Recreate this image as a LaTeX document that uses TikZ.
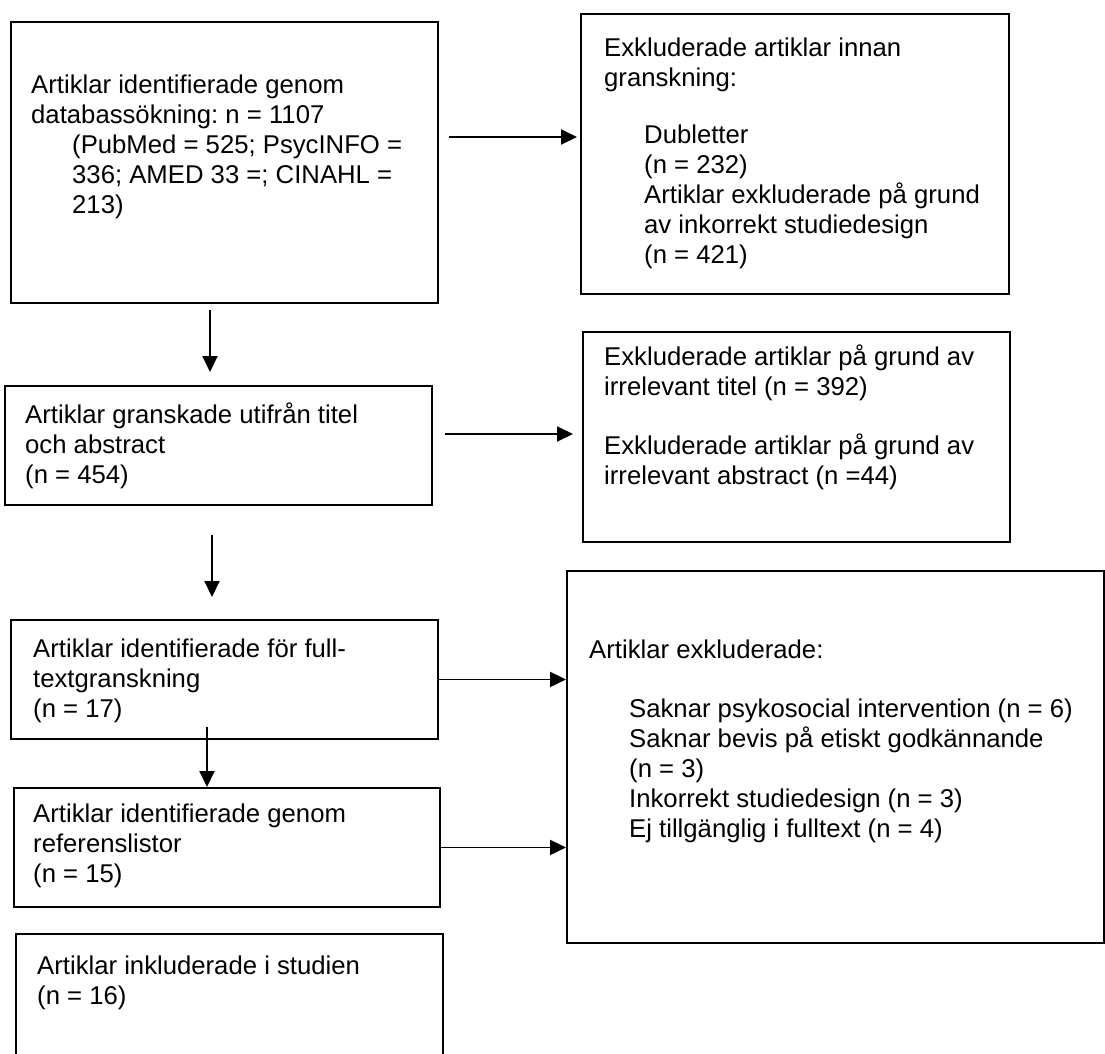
\documentclass[tikz,border=0pt]{standalone}
\usepackage{fontspec}
\setmainfont{Liberation Sans}
\usetikzlibrary{arrows.meta,calc}
\frenchspacing

\tikzset{
  box/.style={draw, line width=1.9pt, inner sep=0pt, anchor=north west},
  txt/.style={anchor=north west, inner sep=0pt, align=left,
    font=\fontsize{25.7}{30}\selectfont, execute at begin node=\strut},
  arr/.style={line width=1.9pt, -{Triangle[length=16pt,width=15pt]}},
}

\begin{document}
\begin{tikzpicture}[x=1pt,y=-1pt]
\clip (0,0) rectangle (1105,1053);

% Left column boxes
\node[box, minimum width=427pt, minimum height=281pt] (ident) at (10,21) {};
\node[box, minimum width=427pt, minimum height=119pt] (screen) at (4,385) {};
\node[box, minimum width=427pt, minimum height=119pt] (full) at (10,619) {};
\node[box, minimum width=426pt, minimum height=119pt] (refs) at (13,787) {};
\node[box, minimum width=427pt, minimum height=140pt] (incl) at (15,933) {};

% Right column boxes
\node[box, minimum width=428pt, minimum height=280pt] (excl1) at (580,13) {};
\node[box, minimum width=427pt, minimum height=210pt] (excl2) at (582,331) {};
\node[box, minimum width=537pt, minimum height=372pt] (excl3) at (566,570) {};

% Texts
\node[txt] (identtxt) at ([shift={(21,54)}]ident.north west)
  {Artiklar identifierade genom\\databassökning: n = 1107\\
   \hspace*{41pt}(PubMed = 525; PsycINFO =\\
   \hspace*{41pt}336; AMED 33 =; CINAHL =\\
   \hspace*{41pt}213)};
\node[txt] (screentxt) at ([shift={(21,18)}]screen.north west)
  {Artiklar granskade utifrån titel\\och abstract\\(n = 454)};
\node[txt] (fulltxt) at ([shift={(23,20)}]full.north west)
  {Artiklar identifierade för full-\\textgranskning\\(n = 17)};
\node[txt] (refstxt) at ([shift={(20,17)}]refs.north west)
  {Artiklar identifierade genom\\referenslistor\\(n = 15)};
\node[txt] (incltxt) at ([shift={(22,23)}]incl.north west)
  {Artiklar inkluderade i studien\\(n = 16)};

\node[txt] (excl1txt) at ([shift={(24,25)}]excl1.north west)
  {Exkluderade artiklar innan\\granskning:\\[27pt]
   \hspace*{40pt}Dubletter\\
   \hspace*{40pt}(n = 232)\\
   \hspace*{40pt}Artiklar exkluderade på grund\\
   \hspace*{40pt}av inkorrekt studiedesign\\
   \hspace*{40pt}(n = 421)};
\node[txt] (excl2txt) at ([shift={(22,14)}]excl2.north west)
  {Exkluderade artiklar på grund av\\irrelevant titel (n = 392)\\[29pt]
   Exkluderade artiklar på grund av\\irrelevant abstract (n =44)};
\node[txt] (excl3txt) at ([shift={(23,70)}]excl3.north west)
  {Artiklar exkluderade:\\[29pt]
   \hspace*{40pt}Saknar psykosocial intervention (n = 6)\\
   \hspace*{40pt}Saknar bevis på etiskt godkännande\\
   \hspace*{40pt}(n = 3)\\
   \hspace*{40pt}Inkorrekt studiedesign (n = 3)\\
   \hspace*{40pt}Ej tillgänglig i fulltext (n = 4)};

% Arrows to the right
\coordinate (a1) at (449,137);
\draw[arr, shorten >=3pt] (a1) -- (a1 -| excl1.west);
\coordinate (a2) at (445,434);
\draw[arr, shorten >=9pt] (a2) -- (a2 -| excl2.west);
\draw[arr] (full.east) -- (full.east -| excl3.west);
\draw[arr] (refs.east) -- (refs.east -| excl3.west);

% Arrows downwards
\coordinate (d1) at (210,310);
\draw[arr, shorten >=13pt] (d1) -- (d1 |- screen.north);
\coordinate (d2) at (212,535);
\draw[arr, shorten >=22pt] (d2) -- (d2 |- full.north);
\coordinate (d3) at (207,727);
\draw[arr] (d3) -- (d3 |- refs.north);

\end{tikzpicture}
\end{document}
